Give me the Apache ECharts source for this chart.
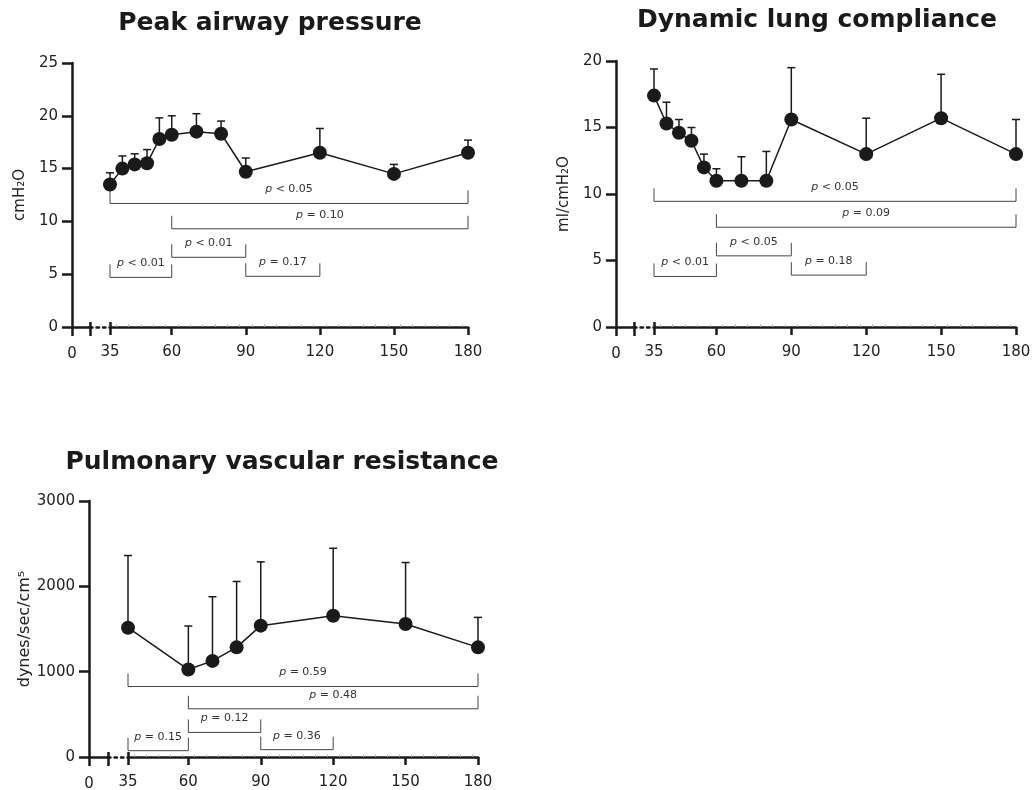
<!DOCTYPE html>
<html>
<head>
<meta charset="utf-8">
<script src="https://cdn.jsdelivr.net/npm/echarts@6/dist/echarts.min.js"></script>
<style>
  html, body { margin: 0; background: #fff; }
  #chart { width: 1033px; height: 790px; }
</style>
</head>
<body>
<div id="chart"></div>
<script>
// time points (min)
const timeAll = [35, 40, 45, 50, 55, 60, 70, 80, 90, 120, 150, 180];
const timePvr = [35, 60, 70, 80, 90, 120, 150, 180];
const xTickValues = [35, 60, 90, 120, 150, 180];

// peak airway pressure: mean and mean + SD (cmH2O)
const peakMean = [13.5, 15.0, 15.4, 15.5, 17.8, 18.2, 18.5, 18.3, 14.7, 16.5, 14.5, 16.5];
const peakUpper = [14.6, 16.2, 16.4, 16.8, 19.8, 20.0, 20.2, 19.5, 16.0, 18.8, 15.4, 17.7];

// dynamic lung compliance (ml/cmH2O)
const compMean = [17.4, 15.3, 14.6, 14.0, 12.0, 11.0, 11.0, 11.0, 15.6, 13.0, 15.7, 13.0];
const compUpper = [19.4, 16.9, 15.6, 15.0, 13.0, 11.9, 12.8, 13.2, 19.5, 15.7, 19.0, 15.6];

// pulmonary vascular resistance (dynes/sec/cm5)
const pvrMean = [1515, 1025, 1126, 1285, 1539, 1656, 1558, 1285];
const pvrUpper = [2361, 1535, 1878, 2057, 2287, 2446, 2279, 1636];

// significance brackets: [from, to, level, p text]
const peakBrackets = [[35, 180, 11.7, '< 0.05'], [60, 180, 9.3, '= 0.10'], [60, 90, 6.6, '< 0.01'], [35, 60, 4.7, '< 0.01'], [90, 120, 4.8, '= 0.17']];
const compBrackets = [[35, 180, 9.45, '< 0.05'], [60, 180, 7.5, '= 0.09'], [60, 90, 5.35, '< 0.05'], [35, 60, 3.8, '< 0.01'], [90, 120, 3.9, '= 0.18']];
const pvrBrackets = [[35, 180, 826, '= 0.59'], [60, 180, 565, '= 0.48'], [60, 90, 288, '= 0.12'], [35, 60, 74, '= 0.15'], [90, 120, 86, '= 0.36']];

const font = '"DejaVu Sans", Verdana, sans-serif';
const ink = '#1a1a1a';

// layout of each panel (pixels); axisX = y axis, breakX = break mark, startX/endX = 35 / 180
const panels = [
  { title: 'Peak airway pressure', titleX: 270, titleY: 23, yName: 'cmH₂O', nameGap: 44, nameSize: 15,
    yMax: 25, yStep: 5, axisX: 72, breakX: 90, startX: 110, endX: 468, top: 63, bottom: 327,
    time: timeAll, mean: peakMean, upper: peakUpper, brackets: peakBrackets },
  { title: 'Dynamic lung compliance', titleX: 817, titleY: 20, yName: 'ml/cmH₂O', nameGap: 44, nameSize: 15,
    yMax: 20, yStep: 5, axisX: 616, breakX: 634, startX: 654, endX: 1016, top: 61, bottom: 327,
    time: timeAll, mean: compMean, upper: compUpper, brackets: compBrackets },
  { title: 'Pulmonary vascular resistance', titleX: 282, titleY: 462, yName: 'dynes/sec/cm⁵', nameGap: 56, nameSize: 16,
    yMax: 3000, yStep: 1000, axisX: 89, breakX: 108, startX: 128, endX: 478, top: 501, bottom: 757,
    time: timePvr, mean: pvrMean, upper: pvrUpper, brackets: pvrBrackets }
];

const option = { animation: false, backgroundColor: '#fff', grid: [], xAxis: [], yAxis: [], series: [], graphic: [] };

const labelStyle = { fontFamily: font, fontSize: 15, color: '#222' };
const lineStyle = { color: ink, width: 2.5 };
const plain = function (v) { return String(v); };

panels.forEach(function (p) {
  const g = option.grid.length;
  const xi = option.xAxis.length;
  const yi = option.yAxis.length;
  const h = p.bottom - p.top;

  // grid for the 0 segment, the dotted gap and the 35-180 part
  option.grid.push(
    { left: p.axisX, top: p.top, width: p.breakX - p.axisX, height: h, outerBoundsMode: 'none' },
    { left: p.breakX, top: p.top, width: p.startX - p.breakX, height: h, outerBoundsMode: 'none' },
    { left: p.startX, top: p.top, width: p.endX - p.startX, height: h, outerBoundsMode: 'none' }
  );

  option.xAxis.push(
    // 0 segment
    { type: 'value', gridIndex: g, position: 'bottom', min: 0, max: 1, splitLine: { show: false },
      axisLine: { show: true, onZero: false, lineStyle: lineStyle },
      axisTick: { show: true, customValues: [0, 1], length: 9, lineStyle: lineStyle },
      axisLabel: { show: true, customValues: [0], formatter: function () { return '0'; }, margin: 20, ...labelStyle } },
    // upper half of break mark
    { type: 'value', gridIndex: g, position: 'bottom', min: 0, max: 1, splitLine: { show: false },
      axisLine: { show: false },
      axisTick: { show: true, inside: true, customValues: [1], length: 5, lineStyle: lineStyle },
      axisLabel: { show: false } },
    // dotted gap
    { type: 'value', gridIndex: g + 1, position: 'bottom', min: 0, max: 1, splitLine: { show: false },
      axisLine: { show: true, onZero: false, lineStyle: { color: ink, width: 2.5, type: [2.5, 4] } },
      axisTick: { show: false }, axisLabel: { show: false } },
    // main axis
    { type: 'value', gridIndex: g + 2, position: 'bottom', min: 35, max: 180, interval: 5, splitLine: { show: false },
      axisLine: { show: true, onZero: false, lineStyle: lineStyle },
      axisTick: { show: true, customValues: xTickValues, length: 8, lineStyle: lineStyle },
      axisLabel: { show: true, customValues: xTickValues, formatter: plain, margin: 18, ...labelStyle } },
    // minor ticks and upper break mark at 35
    { type: 'value', gridIndex: g + 2, position: 'bottom', min: 35, max: 180, interval: 5, splitLine: { show: false },
      axisLine: { show: false },
      axisTick: { show: true, inside: true, customValues: [35], length: 5, lineStyle: lineStyle },
      minorTick: { show: true, splitNumber: 2, length: 2.5, lineStyle: { color: '#aaa', width: 1 } },
      axisLabel: { show: false } }
  );

  option.yAxis.push(
    { type: 'value', gridIndex: g, min: 0, max: p.yMax, interval: p.yStep, splitLine: { show: false },
      axisLine: { show: true, onZero: false, lineStyle: lineStyle },
      axisTick: { show: true, length: 10, lineStyle: lineStyle },
      axisLabel: { margin: 14, formatter: plain, ...labelStyle },
      name: p.yName, nameLocation: 'middle', nameRotate: 90, nameGap: p.nameGap,
      nameTextStyle: { fontFamily: font, fontSize: p.nameSize, color: '#222' } },
    { type: 'value', gridIndex: g + 1, min: 0, max: p.yMax, show: false },
    { type: 'value', gridIndex: g + 2, min: 0, max: p.yMax, show: false }
  );

  // brackets with p values
  option.series.push({
    type: 'custom', xAxisIndex: xi + 3, yAxisIndex: yi + 2, clip: false, silent: true,
    encode: { x: [0, 1], y: 2 },
    data: p.brackets.map(function (b) { return [b[0], b[1], b[2]]; }),
    renderItem: function (params, api) {
      const a = api.coord([api.value(0), api.value(2)]);
      const b = api.coord([api.value(1), api.value(2)]);
      const txt = p.brackets[params.dataIndex][3];
      return {
        type: 'group',
        children: [
          { type: 'polyline',
            shape: { points: [[a[0], a[1] - 13], [a[0], a[1]], [b[0], b[1]], [b[0], b[1] - 13]] },
            style: { stroke: '#444', lineWidth: 1, fill: null } },
          { type: 'text', x: (a[0] + b[0]) / 2, y: a[1] - 14,
            style: { text: '{i|p} ' + txt, align: 'center', verticalAlign: 'middle',
              fontFamily: font, fontSize: 11, fill: '#333',
              rich: { i: { fontStyle: 'italic', fontFamily: font, fontSize: 11, fill: '#333' } } } }
        ]
      };
    }
  });

  // upward error bars (mean to mean + SD)
  option.series.push({
    type: 'custom', xAxisIndex: xi + 3, yAxisIndex: yi + 2, clip: false, silent: true,
    encode: { x: 0, y: [1, 2] },
    data: p.time.map(function (t, i) { return [t, p.mean[i], p.upper[i]]; }),
    renderItem: function (params, api) {
      const lo = api.coord([api.value(0), api.value(1)]);
      const hi = api.coord([api.value(0), api.value(2)]);
      const st = { stroke: ink, lineWidth: 1.5 };
      return {
        type: 'group',
        children: [
          { type: 'line', shape: { x1: lo[0], y1: lo[1], x2: hi[0], y2: hi[1] }, style: st },
          { type: 'line', shape: { x1: hi[0] - 4, y1: hi[1], x2: hi[0] + 4, y2: hi[1] }, style: st }
        ]
      };
    }
  });

  // means
  option.series.push({
    type: 'line', xAxisIndex: xi + 3, yAxisIndex: yi + 2, clip: false, silent: true,
    data: p.time.map(function (t, i) { return [t, p.mean[i]]; }),
    symbol: 'circle', symbolSize: 14,
    itemStyle: { color: ink },
    lineStyle: { color: ink, width: 1.5 }
  });

  option.graphic.push({
    type: 'text', x: p.titleX, y: p.titleY,
    style: { text: p.title, align: 'center', verticalAlign: 'middle',
      fontFamily: font, fontSize: 25, fontWeight: 'bold', fill: ink }
  });
});

const chart = echarts.init(document.getElementById('chart'), null, { renderer: 'canvas' });
chart.setOption(option);
</script>
</body>
</html>
